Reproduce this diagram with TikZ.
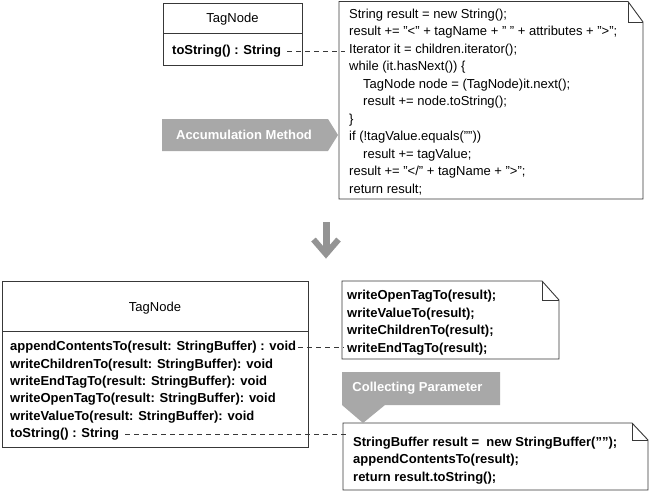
\documentclass[tikz,border=0pt]{standalone}
\usepackage{fontspec}
\setmainfont{Liberation Sans}
\begin{document}
\begin{tikzpicture}[x=1pt,y=-1pt]
\tikzset{
  boxline/.style={draw=black!78, line width=0.9pt},
  txt/.style={inner sep=0pt, anchor=base west, font=\fontsize{13}{16}\selectfont},
  btxt/.style={txt, font=\fontsize{13}{16}\selectfont\bfseries},
  conn/.style={draw=black!78, line width=0.8pt, dash pattern=on 5pt off 4pt},
  tagfill/.style={fill=black!34},
  tagtxt/.style={inner sep=0pt, text=white, font=\fontsize{13}{16}\selectfont\bfseries},
  umlbox/.style={boxline, inner sep=0pt, anchor=north west},
}
\useasboundingbox (0,0) rectangle (650,491);

% ---------- top class box ----------
\node[umlbox, minimum width=139pt, minimum height=62pt] (boxA) at (163,3) {};
\draw[boxline] (163,33) -- (302,33);
\node[txt, anchor=base] (titleA) at (232.5,22.5) {TagNode};
\node[btxt] (tsA) at (172,54.5) {toString() : String};

% ---------- top note ----------
\draw[boxline, fill=white] (339,1.5) -- (628,1.5) -- (643,22) -- (643,199) -- (339,199) -- cycle;
\draw[boxline] (628,1.5) -- (628,22) -- (643,22);
\coordinate (noteA) at (339,100);
\node[txt] (a0) at (349,18.5) {String result = new String();};
\node[txt] (a1) at (349,35.95) {result += "<" + tagName + " " + attributes + ">";};
\node[txt] (a2) at (349,53.4) {Iterator it = children.iterator();};
\node[txt] (a3) at (349,70.85) {while (it.hasNext()) \{};
\node[txt] (a4) at (363,88.3) {TagNode node = (TagNode)it.next();};
\node[txt] (a5) at (363,105.75) {result += node.toString();};
\node[txt] (a6) at (349,123.2) {\}};
\node[txt] (a7) at (349,140.65) {if (!tagValue.equals(""))};
\node[txt] (a8) at (363,158.1) {result += tagValue;};
\node[txt] (a9) at (349,175.55) {result += "</" + tagName + ">";};
\node[txt] (a10) at (349,193) {return result;};

\draw[conn] ([xshift=6pt]tsA.east) -- ([xshift=6pt]tsA.east -| noteA);

% ---------- Accumulation Method label ----------
\fill[tagfill] (162,119) -- (328,119) -- (338,135) -- (328,151) -- (162,151) -- cycle;
\node[tagtxt] (accum) at (244,135) {Accumulation Method};

% ---------- down arrow ----------
\draw[draw=black!42, line width=7pt] (326,222) -- (326,254);
\draw[draw=black!42, line width=6pt, line join=miter] (313.5,239.5) -- (326,254) -- (338.5,239.5);

% ---------- bottom class box ----------
\node[umlbox, minimum width=306pt, minimum height=166pt] (boxB) at (2,281) {};
\draw[boxline] (2,331) -- (308,331);
\node[txt, anchor=base] (titleB) at (155,311.5) {TagNode};
\node[btxt] (m1) at (10,350.7) {appendContentsTo(result: StringBuffer) : void};
\node[btxt] (m2) at (10,368.1) {writeChildrenTo(result: StringBuffer): void};
\node[btxt] (m3) at (10,385.5) {writeEndTagTo(result: StringBuffer): void};
\node[btxt] (m4) at (10,402.9) {writeOpenTagTo(result: StringBuffer): void};
\node[btxt] (m5) at (10,420.3) {writeValueTo(result: StringBuffer): void};
\node[btxt] (m6) at (10,437.7) {toString() : String};

% ---------- note 1 ----------
\draw[boxline, fill=white] (342,281) -- (542,281) -- (559,300) -- (559,359) -- (342,359) -- cycle;
\draw[boxline] (542,281) -- (542,300) -- (559,300);
\coordinate (noteB) at (342,320);
\node[btxt] (b0) at (347,299.3) {writeOpenTagTo(result);};
\node[btxt] (b1) at (347,317.1) {writeValueTo(result);};
\node[btxt] (b2) at (347,334.9) {writeChildrenTo(result);};
\node[btxt] (b3) at (347,352.7) {writeEndTagTo(result);};

% ---------- note 2 ----------
\draw[boxline, fill=white] (343,423) -- (632,423) -- (648,440) -- (648,490) -- (343,490) -- cycle;
\draw[boxline] (632,423) -- (632,440) -- (648,440);
\coordinate (noteC) at (343,456);
\node[btxt] (c0) at (353,446) {StringBuffer result =~ new StringBuffer("");};
\node[btxt] (c1) at (353,463.8) {appendContentsTo(result);};
\node[btxt] (c2) at (353,481.6) {return result.toString();};

\draw[conn] ([xshift=2pt]m1.east) -- ([xshift=2pt]m1.east -| noteB);
\draw[conn] ([xshift=6pt]m6.east) -- ([xshift=6pt]m6.east -| noteC);

% ---------- Collecting Parameter label ----------
\fill[tagfill] (342,372) -- (500,372) -- (500,405) -- (385,405) -- (363,423) -- (342,405) -- cycle;
\node[tagtxt] (collect) at (417.5,388.5) {Collecting Parameter};
\end{tikzpicture}
\end{document}
